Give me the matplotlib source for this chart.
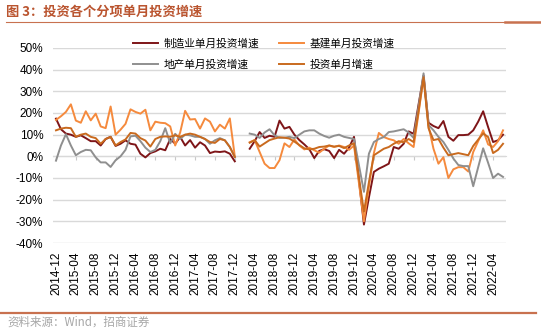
import numpy as np
import pandas as pd
import matplotlib
matplotlib.use('Agg')
import matplotlib.pyplot as plt
from matplotlib.lines import Line2D

plt.rcParams['font.family'] = ['Liberation Sans', 'Noto Sans CJK SC']

nan = np.nan

# monthly single-month growth, %, 2014-12 .. 2022-06 (2018-01/02 not published)
months = pd.period_range('2014-12', '2022-06', freq='M').strftime('%Y-%m').tolist()

manufacturing = [
    17.4, 12.5, 10.5, 10.0, 9.0, 9.7, 8.4, 7.0, 7.0, 5.0, 8.0, 9.0, 4.8,
    5.8, 7.4, 5.8, 5.4, 1.2, -0.5, 1.5, 2.3, 3.5, 2.8, 8.0, 5.8,
    9.0, 5.0, 7.5, 4.0, 6.5, 5.0, 1.5, 2.2, 2.0, 2.3, 1.2, -2.3,
    nan, nan, 3.5, 7.0, 11.2, 8.5, 9.5, 9.0, 16.5, 12.8, 13.6, 10.0,
    7.5, 5.5, 3.3, -0.8, 2.5, 3.3, 2.5, -0.8, 3.0, 1.2, 4.0, 9.0,
    -11.0, -31.5, -19.0, -7.2, -5.7, -4.6, -3.4, 4.3, 3.5, 5.8, 11.5, 10.4,
    24.0, 37.3, 15.5, 14.0, 13.0, 16.3, 9.0, 7.2, 9.8, 9.8, 10.0, 12.0,
    16.0, 20.8, 13.5, 6.6, 7.4, 10.0,
]

infrastructure = [
    16.8, 18.5, 20.5, 24.0, 16.5, 15.5, 20.8, 16.6, 19.7, 13.8, 13.0, 23.0, 10.0,
    12.3, 15.0, 21.7, 20.5, 19.7, 21.5, 12.0, 16.0, 15.5, 15.3, 13.8, 5.0,
    11.0, 21.0, 17.0, 17.2, 12.8, 17.5, 16.0, 11.5, 14.6, 12.8, 17.5, 0.0,
    nan, nan, 6.5, 7.5, 2.0, -3.4, -5.4, -5.4, -1.8, 6.0, 4.3, 7.8,
    5.0, 3.2, 4.0, 2.8, 1.7, 3.5, 5.0, 4.3, 5.0, 4.3, 3.0, 5.0,
    -12.5, -30.0, -14.0, 1.5, 10.8, 8.9, 8.0, 7.4, 5.8, 8.0, 6.0, 4.3,
    20.0, 36.6, 14.0, 3.5, -3.4, -0.4, -10.0, -6.0, -5.0, -5.0, -7.0, 2.0,
    7.0, 12.0, 5.5, 4.3, 7.0, 12.0,
]

real_estate = [
    -2.0, 5.0, 10.2, 5.0, 0.5, 2.0, 3.0, 2.8, -0.5, -2.8, -2.8, -4.9, -1.8,
    0.0, 3.0, 9.2, 9.5, 7.0, 4.0, 2.0, 3.0, 7.0, 13.0, 6.0, 10.4,
    8.0, 10.0, 9.7, 9.0, 9.0, 8.0, 5.8, 7.4, 8.4, 7.4, 4.3, -0.3,
    nan, nan, 10.5, 10.0, 8.5, 11.0, 12.5, 9.7, 8.5, 8.6, 9.0, 8.4,
    10.0, 11.5, 12.0, 12.0, 10.5, 9.4, 8.6, 9.5, 10.0, 9.0, 8.5, 8.0,
    -4.2, -16.4, 1.2, 6.6, 8.0, 8.9, 11.2, 11.5, 12.0, 12.5, 11.0, 8.5,
    23.0, 38.3, 14.5, 12.0, 9.0, 6.6, 3.0, -1.0, -4.0, -4.5, -4.5, -13.8,
    -5.0, 3.7, -3.0, -10.0, -8.0, -9.5,
]

total = [
    12.0, 12.8, 13.2, 13.0, 9.0, 10.0, 10.5, 9.0, 8.4, 5.8, 8.0, 9.0, 5.0,
    6.6, 7.8, 10.8, 10.5, 8.4, 7.3, 4.5, 8.0, 9.0, 9.2, 9.0, 9.7,
    9.0, 10.0, 10.5, 10.0, 9.0, 8.0, 6.6, 6.2, 8.0, 7.4, 4.3, -0.3,
    nan, nan, 6.3, 7.5, 4.5, 6.0, 7.5, 8.2, 8.8, 8.6, 8.2, 6.8,
    5.2, 3.7, 3.2, 3.5, 4.3, 4.5, 5.0, 4.5, 4.8, 3.8, 5.0, 6.0,
    -10.0, -25.5, -12.0, 0.5, 2.0, 3.5, 4.3, 5.8, 7.0, 6.5, 8.0, 6.6,
    21.0, 36.5, 13.0, 7.5, 8.0, 4.0, 0.5, 1.0, 1.5, 1.0, 0.5, 4.8,
    7.7, 10.6, 8.9, 1.5, 3.0, 5.8,
]

series = [
    ('制造业单月投资增速', manufacturing, '#7E1518'),
    ('基建单月投资增速', infrastructure, '#F58A3D'),
    ('地产单月投资增速', real_estate, '#8F8F8F'),
    ('投资单月增速', total, '#C96A1E'),
]

W, H = 541, 332
fig = plt.figure(figsize=(W / 100, H / 100), dpi=100)
ax = fig.add_axes([53 / W, 1 - 243 / H, (506 - 53) / W, (243 - 48) / H])

x = np.arange(len(months))
handles = {}
for name, vals, color in series:
    line, = ax.plot(x, vals, color=color, lw=1.4, label=name)
    handles[name] = line

ax.set_xlim(-0.6, len(months) - 0.4)
ax.set_ylim(-40, 50)
yt = np.arange(-40, 51, 10)
ax.set_yticks(yt)
ax.set_yticklabels([f'{v}%' for v in yt], fontsize=8.5)
xt = x[::4]
ax.set_xticks(xt)
ax.set_xticklabels([months[i] for i in xt], rotation=90, fontsize=8.5)
ax.tick_params(axis='both', length=0)
ax.tick_params(axis='y', pad=7)
ax.tick_params(axis='x', pad=6)
for s in ax.spines.values():
    s.set_visible(False)
ax.yaxis.grid(True, color='#D9D9D9', lw=1)
ax.set_axisbelow(True)

# category axis crossing at 0% with small tick marks
zero = ax.secondary_xaxis(40 / 90)
zero.set_xticks(xt)
zero.set_xticklabels([])
zero.tick_params(length=3, width=0.8, color='#C8C8C8', direction='out')
zero.spines['bottom'].set_color('#D9D9D9')

order = ['制造业单月投资增速', '地产单月投资增速', '基建单月投资增速', '投资单月增速']
fig.legend([handles[n] for n in order], order, loc='upper left',
           bbox_to_anchor=(128 / W, 1 - 33 / H), bbox_transform=fig.transFigure,
           ncol=2, frameon=False, borderpad=0, handlelength=2.3,
           handletextpad=0.5, columnspacing=1.9, labelspacing=1.0,
           prop={'family': ['Noto Sans CJK SC'], 'size': 7.7})

accent = '#C8714F'
fig.text(6 / W, 1 - 12 / H, '图 3：投资各个分项单月投资增速', fontsize=9.5,
         fontweight='bold', color='#BA5530', va='center',
         family=['Noto Sans CJK SC'])
fig.add_artist(Line2D([6 / W, 505 / W], [1 - 22 / H] * 2, color=accent, lw=0.8))
fig.add_artist(Line2D([505 / W, 1.0], [1 - 22 / H] * 2, color=accent, lw=1.8))
fig.add_artist(Line2D([0.0, 536 / W], [1 - 313 / H] * 2, color=accent, lw=1.6))
fig.text(7 / W, 1 - 322 / H, '资料来源：Wind，招商证券', fontsize=8.3,
         color='#A6A6A6', va='center', family=['Noto Sans CJK SC', 'Liberation Sans'])

fig.savefig('out.png', dpi=100)
